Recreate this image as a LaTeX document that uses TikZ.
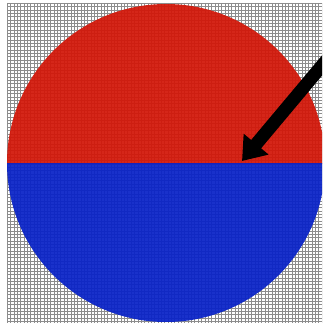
\documentclass[tikz,border=0pt]{standalone}
\usetikzlibrary{arrows.meta}
\definecolor{topred}{RGB}{210,22,8}
\definecolor{botblue}{RGB}{8,34,200}
\tikzset{
  gridline/.style={draw=black!45, line width=0.22pt},
  halffill/.style={fill opacity=0.93},
  bigarrow/.style={line width=13pt, -{Triangle[width=31pt,length=22pt]}, black}
}
\begin{document}
\begin{tikzpicture}[x=1pt,y=-1pt]
\useasboundingbox (0,0) rectangle (322,326);
\fill[white] (0,0) rectangle (322,326);
\begin{scope}
\clip (0,0) rectangle (322,326);
\foreach \i in {0,...,95} {
  \draw[gridline] (7+\i*3.35,3) -- (7+\i*3.35,323);
  \draw[gridline] (7,3+\i*3.35) -- (322,3+\i*3.35);
}
\begin{scope}
\clip (0,0) rectangle (330,163);
\fill[topred,halffill] (166,163) circle[radius=159];
\end{scope}
\begin{scope}
\clip (0,163) rectangle (330,330);
\fill[botblue,halffill] (166,163) circle[radius=159];
\end{scope}
\coordinate (tail) at (330,56);
\coordinate (tip) at (242,161);
\draw[bigarrow] (tail) -- (tip);
\end{scope}
\end{tikzpicture}
\end{document}
